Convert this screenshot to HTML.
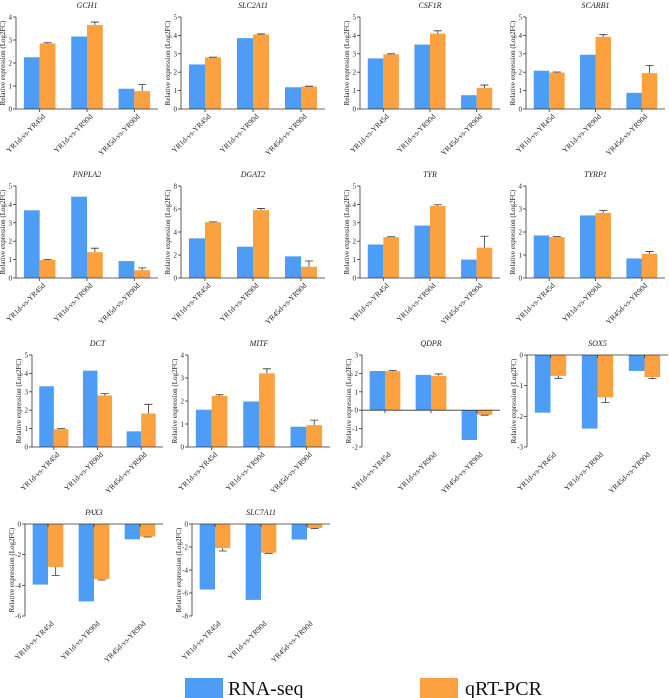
<!DOCTYPE html>
<html><head><meta charset="utf-8"><style>
html,body{margin:0;padding:0;background:#fff;}
svg{display:block;font-family:"Liberation Serif",serif;}
</style></head><body>
<svg id="chart" width="669" height="698" viewBox="0 0 669 698"></svg>
<script>
const categories = ["YR1d-vs-YR45d","YR1d-vs-YR90d","YR45d-vs-YR90d"];
const genes = ["GCH1","SLC2A11","CSF1R","SCARB1","PNPLA2","DGAT2","TYR","TYRP1","DCT","MITF","QDPR","SOX5","PAX3","SLC7A11"];
const rnaSeq = [[2.25,3.15,0.88],[2.42,3.85,1.18],[2.75,3.5,0.75],[2.08,2.95,0.88],[3.68,4.42,0.92],[3.45,2.72,1.88],[1.82,2.85,1.0],[1.85,2.72,0.85],[3.3,4.15,0.85],[1.62,1.98,0.88],[2.13,1.92,-1.62],[-1.88,-2.4,-0.52],[-3.95,-5.05,-1.0],[-5.7,-6.6,-1.35]];
const qpcr = [[2.85,3.65,0.78],[2.8,4.05,1.22],[2.97,4.1,1.15],[1.98,3.92,1.95],[0.98,1.4,0.42],[4.85,5.9,0.98],[2.22,3.92,1.65],[1.78,2.83,1.05],[0.97,2.8,1.82],[2.22,3.2,0.95],[2.12,1.87,-0.25],[-0.68,-1.38,-0.72],[-2.8,-3.6,-0.82],[-2.1,-2.5,-0.35]];
const qpcrErr = [[0.03,0.13,0.28],[0.02,0.03,0.02],[0.03,0.15,0.15],[0.03,0.12,0.42],[0.02,0.22,0.13],[0.03,0.15,0.5],[0.02,0.06,0.62],[0.02,0.1,0.1],[0.03,0.1,0.5],[0.05,0.2,0.22],[0.03,0.1,0.02],[0.08,0.17,0.05],[0.55,0.05,0.03],[0.25,0.05,0.05]];
const yTicks = [[0,1,2,3,4],[0,1,2,3,4,5],[0,1,2,3,4,5],[0,1,2,3,4,5],[0,1,2,3,4,5],[0,2,4,6,8],[0,1,2,3,4,5],[0,1,2,3,4],[0,1,2,3,4,5],[0,1,2,3,4],[-2,-1,0,1,2,3],[-3,-2,-1,0],[-6,-4,-2,0],[-8,-6,-4,-2,0]];
const legendLabels = ["RNA-seq","qRT-PCR"];

const layout = {
  left:[16,181,360,526, 16,181,360,526, 32,188,362,527, 25,192],
  right:[158,325,500,665, 158,325,500,665, 163,330,500,668, 163,330],
  top:[17,17,17,17,186,186,186,186,355,355,355,355,524,524]
};
const BLUE="#4d9cf6", ORANGE="#fba13f";
const NS="http://www.w3.org/2000/svg";
const svg=document.getElementById('chart');
function mk(tag,attrs,parent){const e=document.createElementNS(NS,tag);for(const k in attrs)e.setAttribute(k,attrs[k]);(parent||svg).appendChild(e);return e;}

genes.forEach((g,i)=>{
  const grp=mk('g',{});
  
  
  const L=layout.left[i],R=layout.right[i],T=layout.top[i],H=92,B=T+H;
  const ticks=yTicks[i],ymin=ticks[0],ymax=ticks[ticks.length-1];
  const y=v=>B-(v-ymin)/(ymax-ymin)*H;
  const band=(R-L)/3;
  const title=mk('text',{x:(L+R)/2,y:T-9,'text-anchor':'middle','font-size':8,'font-style':'italic',fill:'#222'},grp);
  title.textContent=g;
  
  
  const yl=mk('text',{x:0,y:0,'text-anchor':'middle','font-size':7,fill:'#222',transform:`translate(${L-11},${T+H/2}) rotate(-90)`},grp);
  yl.textContent="Relative expression (Log2FC)";
  
  
  const bw=band/3;
  categories.forEach((c,j)=>{
    const cx=L+band*(j+0.5);
    const v1=rnaSeq[i][j],v2=qpcr[i][j],e=qpcrErr[i][j];
    const r1=mk('rect',{x:cx-bw,y:Math.min(y(v1),y(0)),width:bw,height:Math.abs(y(v1)-y(0)),fill:BLUE},grp);
    
    
    const r2=mk('rect',{x:cx,y:Math.min(y(v2),y(0)),width:bw,height:Math.abs(y(v2)-y(0)),fill:ORANGE},grp);
    
    
    const ev=v2>=0?v2+e:v2-e;
    const ex=cx+bw/2;
    const eb=mk('path',{d:`M${ex},${y(v2)}V${y(ev)}M${ex-4},${y(ev)}H${ex+4}`,stroke:'#333','stroke-width':0.8,fill:'none'},grp);
    
    
    mk('line',{x1:cx,x2:cx,y1:y(0),y2:y(0)+3,stroke:'#333','stroke-width':0.8},grp);
    const lx=cx+6,ly=B+8;
    const lab=mk('text',{x:lx,y:ly,'text-anchor':'end','font-size':7.5,fill:'#222',transform:`rotate(-45 ${lx} ${ly})`},grp);
    lab.textContent=c;
    
    
  });
  mk('line',{x1:L,x2:L,y1:T,y2:B,stroke:'#333','stroke-width':0.8},grp);
  mk('line',{x1:L,x2:R,y1:y(0),y2:y(0),stroke:'#333','stroke-width':0.8},grp);
  ticks.forEach(t=>{
    mk('line',{x1:L-3,x2:L,y1:y(t),y2:y(t),stroke:'#333','stroke-width':0.8},grp);
    const tl=mk('text',{x:L-4,y:y(t)+2.5,'text-anchor':'end','font-size':7,fill:'#222'},grp);
    tl.textContent=String(t);
    
    
  });
});

const lg=mk('g',{});


[[185,BLUE,228],[420,ORANGE,465]].forEach((p,k)=>{
  const r=mk('rect',{x:p[0],y:678,width:38,height:20,fill:p[1]},lg);
  
  
  const t=mk('text',{x:p[2],y:695,'font-size':20,fill:'#111'},lg);
  t.textContent=legendLabels[k];
  
  
});
</script>
</body></html>
